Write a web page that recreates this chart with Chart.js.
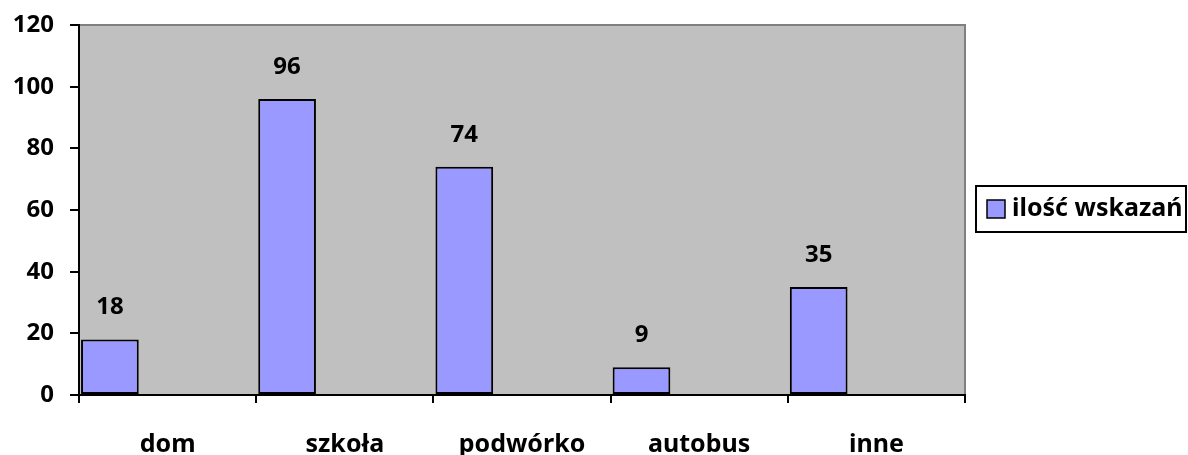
<!DOCTYPE html>
<html>
<head>
<meta charset="utf-8">
<title>ilość wskazań</title>
<script src="https://cdn.jsdelivr.net/npm/chart.js"></script>
<style>
  body { margin: 0; background: #fff; }
  canvas { display: block; }
</style>
</head>
<body>
<canvas id="chart" width="1188" height="455"></canvas>
<script>
// values
const categories = ['dom', 'szkoła', 'podwórko', 'autobus', 'inne'];
const counts = [18, 96, 74, 9, 35];
const seriesName = 'ilość wskazań';
const yTicks = [0, 20, 40, 60, 80, 100, 120];

const FONT = '"Noto Sans", "Open Sans", sans-serif';
const BAR = '#9999ff';
const PLOT_BG = '#c0c0c0';

// gray plot area with gray top/right edge, like the Excel original
const plotBackground = {
  id: 'plotBackground',
  beforeDraw(chart) {
    const { ctx, chartArea: a } = chart;
    ctx.save();
    ctx.fillStyle = PLOT_BG;
    ctx.fillRect(a.left, a.top, a.right - a.left, a.bottom - a.top);
    ctx.strokeStyle = '#808080';
    ctx.lineWidth = 2;
    ctx.beginPath();
    ctx.moveTo(a.left, a.top);
    ctx.lineTo(a.right, a.top);
    ctx.lineTo(a.right, a.bottom);
    ctx.stroke();
    ctx.restore();
  }
};

// value labels above the bars
const valueLabels = {
  id: 'valueLabels',
  afterDatasetsDraw(chart) {
    const { ctx } = chart;
    const meta = chart.getDatasetMeta(0);
    ctx.save();
    ctx.font = 'bold 24px ' + FONT;
    ctx.fillStyle = '#000';
    ctx.textAlign = 'center';
    ctx.textBaseline = 'middle';
    meta.data.forEach((bar, i) => {
      ctx.fillText(String(counts[i]), bar.x, bar.y - 32);
    });
    ctx.restore();
  }
};

// boxed legend on the right
const boxLegend = {
  id: 'boxLegend',
  afterDraw(chart) {
    const { ctx } = chart;
    ctx.save();
    ctx.fillStyle = '#fff';
    ctx.strokeStyle = '#000';
    ctx.lineWidth = 2;
    ctx.fillRect(976, 186, 210, 46);
    ctx.strokeRect(976, 186, 210, 46);
    ctx.fillStyle = BAR;
    ctx.fillRect(987, 200, 18, 18);
    ctx.lineWidth = 1.5;
    ctx.strokeRect(987, 200, 18, 18);
    ctx.fillStyle = '#000';
    ctx.font = 'bold 25px ' + FONT;
    ctx.textAlign = 'left';
    ctx.textBaseline = 'middle';
    ctx.fillText(seriesName, 1012, 209);
    ctx.restore();
  }
};

const empty = categories.map(() => null);

new Chart(document.getElementById('chart'), {
  type: 'bar',
  data: {
    labels: categories,
    datasets: [
      { label: seriesName, data: counts, backgroundColor: BAR, borderColor: '#000',
        borderWidth: 2, borderSkipped: false },
      // two empty series so the real bar sits in the left third of each category
      { label: '', data: empty },
      { label: '', data: empty }
    ]
  },
  options: {
    responsive: false,
    animation: false,
    categoryPercentage: 0.977,
    barPercentage: 1,
    layout: { padding: { left: 0, top: 25, right: 223, bottom: 0 } },
    plugins: {
      legend: { display: false },
      tooltip: { enabled: false }
    },
    scales: {
      x: {
        offset: true,
        grid: { offset: true, drawOnChartArea: false, tickLength: 8, color: '#000', lineWidth: 2 },
        border: { color: '#000', width: 2 },
        ticks: { color: '#000', padding: 27, font: { family: FONT, size: 25, weight: 'bold' } },
        afterFit(scale) { scale.height = 60; scale.paddingLeft = 0; scale.paddingRight = 0; }
      },
      y: {
        min: 0,
        max: 120,
        afterBuildTicks(scale) { scale.ticks = yTicks.map(v => ({ value: v })); },
        grid: { drawOnChartArea: false, tickLength: 9, color: '#000', lineWidth: 2 },
        border: { color: '#000', width: 2 },
        ticks: { color: '#000', padding: 16, font: { family: FONT, size: 24, weight: 'bold' } },
        afterFit(scale) { scale.width = 79; scale.paddingTop = 0; scale.paddingBottom = 0; }
      }
    }
  },
  plugins: [plotBackground, valueLabels, boxLegend]
});
</script>
</body>
</html>
